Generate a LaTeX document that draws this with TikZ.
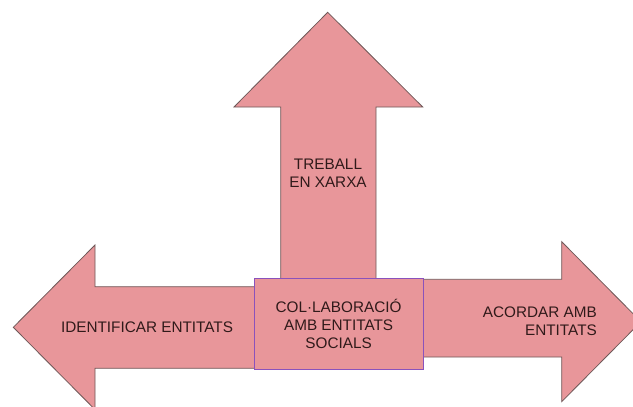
\documentclass[tikz,border=0pt]{standalone}
\usepackage{fontspec}
\setmainfont{Liberation Sans}
\usepackage{tikz}

\definecolor{arrowfill}{HTML}{E8969A}
\definecolor{arrowline}{HTML}{6E5858}
\definecolor{boxline}{HTML}{8A52BC}
\definecolor{labeltext}{HTML}{301A1A}

\tikzset{
  bigarrow/.style={fill=arrowfill,draw=arrowline,line width=0.8pt,line join=miter},
  arrowlabel/.style={text=labeltext,font=\fontsize{15.3}{17.8}\selectfont,inner sep=0pt},
  centrebox/.style={fill=arrowfill,draw=boxline,line width=1pt,minimum width=169pt,minimum height=91pt,inner sep=0pt}
}

\begin{document}
\begin{tikzpicture}[x=1pt,y=-1pt]
\clip(0,0)rectangle(633,407);
% up arrow
\draw[bigarrow](280.7,290)--(280.7,107)--(234,107)--(327.7,12.3)--(422.7,107)--(376,107)--(376,290);
% left arrow
\draw[bigarrow](265,286.7)--(95,286.7)--(95,245)--(13.3,327.3)--(95,409.6)--(95,368.3)--(265,368.3);
% right arrow
\draw[bigarrow](410,279.3)--(561.7,279.3)--(561.7,241.7)--(641,321.7)--(561.7,401.7)--(561.7,357)--(410,357);
\node[centrebox,arrowlabel,align=center](colab) at (338.6,324){COL·LABORACIÓ\\AMB ENTITATS\\SOCIALS};
\node[arrowlabel,align=center](xarxa) at (328,173){TREBALL\\EN XARXA};
\node[arrowlabel](identificar) at (147,327){IDENTIFICAR ENTITATS};
\node[arrowlabel,align=right,anchor=east](acordar) at (597,321){ACORDAR AMB\\ENTITATS};
\end{tikzpicture}
\end{document}
